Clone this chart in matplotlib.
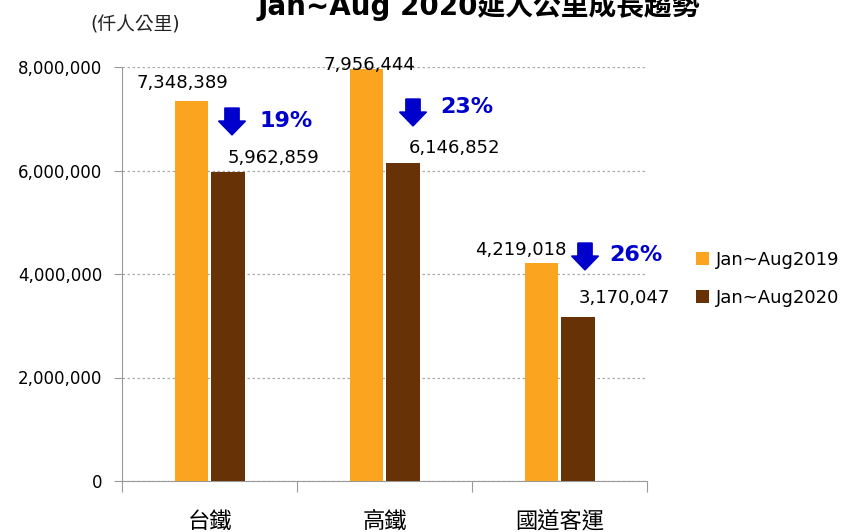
import numpy as np
import matplotlib
matplotlib.use("Agg")
import matplotlib.pyplot as plt

plt.rcParams['font.family'] = ['DejaVu Sans', 'Noto Sans CJK TC']

# data
categories = ['台鐵', '高鐵', '國道客運']
series_names = ['Jan~Aug2019', 'Jan~Aug2020']
vals_2019 = [7348389, 7956444, 4219018]
vals_2020 = [5962859, 6146852, 3170047]
drop_labels = ['19%', '23%', '26%']
yticks = [0, 2000000, 4000000, 6000000, 8000000]

c2019 = '#FBA41F'
c2020 = '#673206'
blue = '#0000CC'

fig = plt.figure(figsize=(8.46, 5.32), dpi=100)
ax = fig.add_axes([122 / 846, 51 / 532, 525 / 846, 414 / 532])

x = np.arange(len(categories))
w = 0.19
ax.bar(x - w / 2 - 0.01, vals_2019, w, color=c2019, label=series_names[0], zorder=3)
ax.bar(x + w / 2 + 0.01, vals_2020, w, color=c2020, label=series_names[1], zorder=3)

ax.set_xlim(-0.5, 2.5)
ax.set_ylim(0, 8000000)
ax.set_yticks(yticks)
ax.set_yticklabels([f'{v:,}' for v in yticks], fontsize=12)
ax.set_xticks([-0.5, 0.5, 1.5, 2.5], minor=False)
ax.set_xticklabels([])
ax.set_xticks(x, minor=True)
ax.set_xticklabels(categories, minor=True, fontsize=16, family=['Noto Sans CJK TC'])
ax.tick_params(axis='x', which='major', length=8, color='#999999')
ax.tick_params(axis='x', which='minor', length=0, pad=21)
ax.tick_params(axis='y', length=6, color='#999999', pad=8)

ax.yaxis.grid(True, linestyle=(0, (2, 2)), color='#aaaaaa', linewidth=0.9, zorder=0)
for s in ['top', 'right']:
    ax.spines[s].set_visible(False)
for s in ['left', 'bottom']:
    ax.spines[s].set_color('#999999')

# value labels (offsets in pixels from bar top centre)
off19 = [(-9, 18), (3, 4), (-20, 13)]
off20 = [(46, 14), (52, 15), (46, 19)]
for i in range(len(categories)):
    ax.annotate(f'{vals_2019[i]:,}', (x[i] - w / 2 - 0.01, vals_2019[i]),
                xytext=off19[i], textcoords='offset pixels', ha='center', va='center', fontsize=13)
    ax.annotate(f'{vals_2020[i]:,}', (x[i] + w / 2 + 0.01, vals_2020[i]),
                xytext=off20[i], textcoords='offset pixels', ha='center', va='center', fontsize=13)

# decline arrows and percentages
arrow_pos = [(232, 121), (413, 112), (585, 256)]
pct_pos = [(286, 121), (467, 107), (636, 255)]
for (ax_px, ay_px), (px, py), lab in zip(arrow_pos, pct_pos, drop_labels):
    fx, fy = ax_px / 846, 1 - ay_px / 532
    fig.patches.append(matplotlib.patches.FancyArrow(
        fx, fy + 13 / 532, 0, -13 / 532, width=9 / 532, head_width=27 / 846,
        head_length=14 / 532, length_includes_head=False, color=blue, transform=fig.transFigure))
    fig.text(px / 846, 1 - py / 532, lab, color=blue, fontsize=16, fontweight='bold', ha='center', va='center')

fig.legend(loc='center left', bbox_to_anchor=(680 / 846, 1 - 279 / 532), frameon=False, fontsize=13,
           handlelength=0.7, handleheight=0.7, handletextpad=0.4, labelspacing=1.1)

fig.text(479 / 846, 1 - 15 / 532, 'Jan~Aug 2020延人公里成長趨勢', fontsize=20, fontweight='bold',
         ha='center', va='baseline')
fig.text(135 / 846, 1 - 25 / 532, '(仟人公里)', fontsize=13.5, ha='center', va='center', color='#222222')

fig.savefig('out.png', dpi=100)
